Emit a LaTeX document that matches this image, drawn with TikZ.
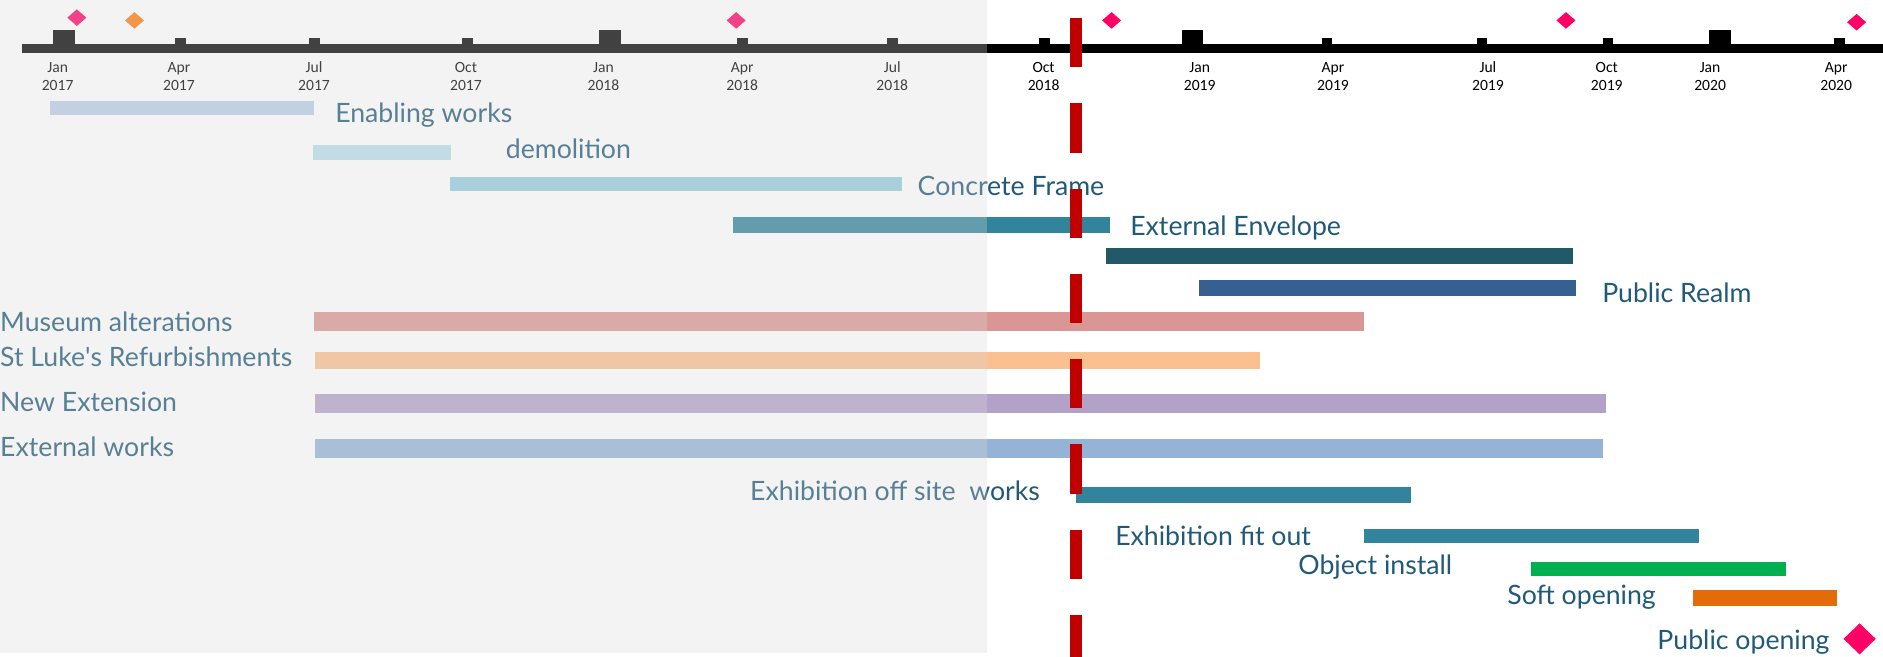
\documentclass[tikz,border=0pt]{standalone}
\usepackage{fontspec}
\setmainfont{Lato}
\newfontfamily\monthfont{Carlito}
\usetikzlibrary{shapes.geometric}
\definecolor{txt}{HTML}{215A78}
\definecolor{ovl}{HTML}{D9D9D9}
\definecolor{redc}{HTML}{C00000}
\definecolor{pinkc}{HTML}{FF0066}
\definecolor{orangec}{HTML}{FF790D}
\definecolor{cEnab}{HTML}{B9CDE5}
\definecolor{cDemo}{HTML}{B7DEE8}
\definecolor{cConc}{HTML}{93CDDD}
\definecolor{cEnvA}{HTML}{31849B}
\definecolor{cEnvB}{HTML}{215968}
\definecolor{cReal}{HTML}{376092}
\definecolor{cMus}{HTML}{DA9694}
\definecolor{cLuke}{HTML}{FAC090}
\definecolor{cNew}{HTML}{B3A2C7}
\definecolor{cExt}{HTML}{95B3D7}
\definecolor{cExh}{HTML}{31849B}
\definecolor{cObj}{HTML}{00B050}
\definecolor{cSoft}{HTML}{E36C09}
\newcommand\ganttbar[5]{\fill[#1] (#2,#4) rectangle (#3,#5);}
\begin{document}
\begin{tikzpicture}[x=1pt,y=-1pt,
  lab/.style={font=\fontsize{22.2}{26}\selectfont, text=txt, anchor=base west, inner sep=0pt},
  mlab/.style={font=\monthfont\fontsize{13}{15}\selectfont, align=center, inner sep=0pt, anchor=base},
  ms/.style={diamond, fill=#1, inner sep=0pt, minimum width=16pt, minimum height=14pt},
  redline/.style={draw=redc, line width=10pt, dash pattern=on 41pt off 30pt},
]
\useasboundingbox (0,0) rectangle (1568,547);
\fill[white] (0,0) rectangle (1568,547);
% axis
\fill[black] (18.7,36.5) rectangle (1568,44);
\foreach \x in {53.5,508,993,1432} \fill[black] (\x-9,25) rectangle (\x+9,37);
\foreach \x in {150.5,262,389,618.5,743.5,870,1105,1234,1339,1532} \fill[black] (\x-4.5,31.5) rectangle (\x+4.5,37);
% month labels
\node[mlab] (m1) at (48,75.5) {Jan\\2017};
\node[mlab] (m2) at (149,75.5) {Apr\\2017};
\node[mlab] (m3) at (261.5,75.5) {Jul\\2017};
\node[mlab] (m4) at (388,75.5) {Oct\\2017};
\node[mlab] (m5) at (502.5,75.5) {Jan\\2018};
\node[mlab] (m6) at (618,75.5) {Apr\\2018};
\node[mlab] (m7) at (743,75.5) {Jul\\2018};
\node[mlab] (m8) at (869,75.5) {Oct\\2018};
\node[mlab] (m9) at (999,75.5) {Jan\\2019};
\node[mlab] (m10) at (1110,75.5) {Apr\\2019};
\node[mlab] (m11) at (1239,75.5) {Jul\\2019};
\node[mlab] (m12) at (1338,75.5) {Oct\\2019};
\node[mlab] (m13) at (1424,75.5) {Jan\\2020};
\node[mlab] (m14) at (1529,75.5) {Apr\\2020};
% milestones
\node[ms=pinkc] (d1) at (64,14.7) {};
\node[ms=orangec] (d2) at (112,17) {};
\node[ms=pinkc] (d3) at (613,17) {};
\node[ms=pinkc] (d4) at (925.6,17) {};
\node[ms=pinkc] (d5) at (1304,17) {};
\node[ms=pinkc] (d6) at (1546,18.5) {};
% bars
\ganttbar{cEnab}{41.5}{261.5}{84}{96}
\ganttbar{cDemo}{260.6}{375.5}{121}{133}
\ganttbar{cConc}{375}{751}{147}{159}
\ganttbar{cEnvA}{610.5}{924}{181}{194}
\ganttbar{cEnvB}{921}{1310}{206.5}{220}
\ganttbar{cReal}{998.5}{1312}{233}{246.5}
\ganttbar{cMus}{261.5}{1136}{260}{275.5}
\ganttbar{cLuke}{262}{1049}{293}{307.5}
\ganttbar{cNew}{262}{1337}{328}{344}
\ganttbar{cExt}{262}{1335}{365.5}{381}
\ganttbar{cExh}{896}{1175}{405.5}{419}
\ganttbar{cExh}{1136}{1415}{440.5}{452}
\ganttbar{cObj}{1275}{1487}{468}{479.5}
\ganttbar{cSoft}{1410}{1530}{491}{504.6}
% labels
\node[lab] (l1) at (279,102) {Enabling works};
\node[lab] (l2) at (421,132) {demolition};
\node[lab] (l3) at (764,163) {Concrete Frame};
\node[lab] (l4) at (941,196) {External Envelope};
\node[lab] (l5) at (1334,251.5) {Public Realm};
\node[lab] (l6) at (0,276) {Museum alterations};
\node[lab] (l7) at (0,305.5) {St Luke\textquotesingle s Refurbishments};
\node[lab] (l8) at (0,343) {New Extension};
\node[lab] (l9) at (0,380) {External works};
\node[lab] (l10) at (624.5,417) {Exhibition off site\ \ works};
\node[lab] (l11) at (928.5,454.6) {Exhibition fit out};
\node[lab] (l12) at (1081,478) {Object install};
\node[lab] (l13) at (1255,503) {Soft opening};
\node[lab] (l14) at (1380,540.5) {Public opening};
\node[diamond, fill=pinkc, inner sep=0pt, minimum width=27pt, minimum height=26pt] (pub) at (1548.5,532) {};
% past overlay
\fill[ovl, fill opacity=0.3] (0,0) rectangle (822,544);
% today line
\coordinate (rtop) at (896,15);
\coordinate (rbot) at (896,547);
\draw[redline] (rtop) -- (rbot);
\end{tikzpicture}
\end{document}
